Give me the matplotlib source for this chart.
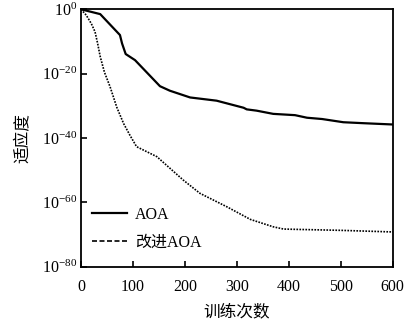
import numpy as np
import matplotlib
matplotlib.use("Agg")
import matplotlib.pyplot as plt
from matplotlib.lines import Line2D

plt.rcParams['font.family'] = ['Liberation Serif', 'Noto Sans CJK SC']
plt.rcParams['mathtext.fontset'] = 'stix'

# iterations and log10 of fitness
aoa_x = [0, 37, 75, 79, 86, 104, 152, 171, 210, 261, 287, 313, 319, 338, 370,
         412, 435, 464, 505, 544, 600]
aoa_log = [0, -1.5, -8, -10.6, -13.9, -15.8, -23.9, -25.3, -27.4, -28.4, -29.5,
           -30.6, -31.1, -31.5, -32.5, -32.9, -33.7, -34.1, -35.1, -35.4, -35.8]
imp_x = [0, 10, 20, 27, 32, 37, 45, 56, 69, 82, 94, 107, 146, 197, 229, 281, 326,
         370, 390, 415, 500, 600]
imp_log = [0, -1.8, -4.5, -7, -10.6, -14.7, -19.5, -24.1, -30.5, -35.5, -39.1, -42.7,
           -45.8, -53.1, -57.2, -61.4, -65.3, -67.6, -68.3, -68.4, -68.7, -69.2]

xticks = [0, 100, 200, 300, 400, 500, 600]
yticks = [1e-80, 1e-60, 1e-40, 1e-20, 1e0]

fig = plt.figure(figsize=(4.04, 3.24), dpi=100)
ax = fig.add_axes([81/404, 1 - 266.7/324, (392.7-81)/404, (266.7-9.3)/324])

ax.plot(aoa_x, 10.0 ** np.array(aoa_log), color='black', lw=1.6)
ax.plot(imp_x, 10.0 ** np.array(imp_log), color='black', lw=1.2, linestyle=(0, (1, 0.8)))

ax.set_yscale('log')
ax.set_xlim(0, 600)
ax.set_ylim(1e-80, 1e0)
ax.set_xticks(xticks)
ax.set_yticks(yticks)
ax.yaxis.set_minor_locator(matplotlib.ticker.NullLocator())
ax.tick_params(direction='in', length=4, width=1.2, labelsize=11.5, pad=9)
ax.tick_params(axis='y', pad=3)
for s in ax.spines.values():
    s.set_linewidth(1.3)

ax.set_xlabel('训练次数', fontsize=12, family=['Noto Sans CJK SC'], labelpad=6)
ax.set_ylabel('适应度', fontsize=12, family=['Noto Sans CJK SC'], labelpad=7)

handles = [Line2D([], [], color='black', lw=1.6),
           Line2D([], [], color='black', lw=1.2, linestyle=(0, (3, 1.5)))]
ax.legend(handles, ['AOA', '改进AOA'], loc='lower left', bbox_to_anchor=(-0.012, 0.005),
          frameon=False, fontsize=11.5, handlelength=2.2, handletextpad=0.5,
          labelspacing=0.75)

fig.savefig('out.png', dpi=100)
